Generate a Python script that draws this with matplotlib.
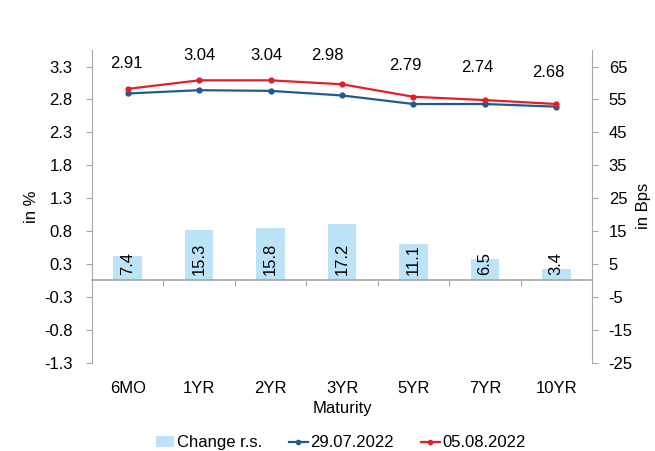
import matplotlib
matplotlib.use("Agg")
import matplotlib.pyplot as plt
from matplotlib.patches import Patch
from matplotlib.lines import Line2D

categories = ["6MO", "1YR", "2YR", "3YR", "5YR", "7YR", "10YR"]
change_bps = [7.4, 15.3, 15.8, 17.2, 11.1, 6.5, 3.4]
yield_2907 = [2.84, 2.89, 2.88, 2.81, 2.68, 2.68, 2.64]
yield_0508 = [2.91, 3.04, 3.04, 2.98, 2.79, 2.74, 2.68]
left_ticks = [-1.25, -0.75, -0.25, 0.25, 0.75, 1.25, 1.75, 2.25, 2.75, 3.25]
left_labels = ["-1.3", "-0.8", "-0.3", "0.3", "0.8", "1.3", "1.8", "2.3", "2.8", "3.3"]
right_ticks = [-25, -15, -5, 5, 15, 25, 35, 45, 55, 65]

# data-label placement (pixel offsets from each point, as positioned in the original)
label_dx_px = [-1, 0, -4, -15, -8, -8, -8]
label_dy_px = [25, 25, 25, 28.5, 31.5, 32.5, 31.5]

plt.rcParams['font.family'] = ['Liberation Sans', 'DejaVu Sans']
plt.rcParams['font.size'] = 12

GREY = "#A6A6A6"
BAR = "#BDE3F8"
BLUE = "#1F5A94"
RED = "#E1202B"

fig = plt.figure(figsize=(6.55, 4.51), dpi=100)
ax = fig.add_axes([0.1405, 0.196, 0.7633, 0.693])
ax2 = ax.twinx()
ax.set_zorder(ax2.get_zorder() + 1)
ax.patch.set_visible(False)

x = list(range(len(categories)))
PT = 72 / 100

ax2.bar(x, change_bps, width=0.4, color=BAR, zorder=2)
for xi, v in zip(x, change_bps):
    ax2.annotate(f"{v}", (xi, 0), xytext=(0, 3.5), textcoords="offset points",
                 rotation=90, ha="center", va="bottom", fontsize=12)

ax.plot(x, yield_2907, color=BLUE, lw=1.6, marker="o", ms=3.5, zorder=3)
ax.plot(x, yield_0508, color=RED, lw=1.6, marker="o", ms=3.5, zorder=3)
for xi, v, dx, dy in zip(x, yield_0508, label_dx_px, label_dy_px):
    ax.annotate(f"{v:.2f}", (xi, v), xytext=(dx * PT, dy * PT), textcoords="offset points",
                ha="center", va="center", fontsize=12)

ax.set_xlim(-0.5, len(categories) - 0.5)
ax.set_ylim(-1.25, 3.5)
ax2.set_ylim(-25, 70)

ax.set_yticks(left_ticks)
ax.set_yticklabels(left_labels)
ax2.set_yticks(right_ticks)
ax2.set_yticklabels([str(t) for t in right_ticks])

ax.set_xticks(x)
ax.set_xticklabels(categories)
ax.tick_params(axis="x", length=0, pad=13)
ax.tick_params(axis="y", length=4, color=GREY, direction="out", pad=10)
ax2.tick_params(axis="y", length=4, color=GREY, direction="out", pad=8)

for a in (ax, ax2):
    a.spines["top"].set_visible(False)
    a.spines["bottom"].set_visible(False)
    a.spines["left"].set_color(GREY)
    a.spines["right"].set_color(GREY)
ax.spines["right"].set_visible(False)
ax2.spines["left"].set_visible(False)

# zero line with category-boundary ticks
zero_frac = (0 - (-1.25)) / (3.5 - (-1.25))
sec = ax.secondary_xaxis(zero_frac)
sec.set_xticks([i + 0.5 for i in range(len(categories) - 1)])
sec.set_xticklabels([])
sec.tick_params(axis="x", length=4, color=GREY, direction="out")
sec.spines["bottom"].set_color(GREY)
sec.spines["bottom"].set_linewidth(1.2)

ax.set_xlabel("Maturity", labelpad=3.5)
ax.set_ylabel("in %", labelpad=4)
ax2.set_ylabel("in Bps", labelpad=2)

handles = [Patch(facecolor=BAR, edgecolor="none"),
           Line2D([], [], color=BLUE, lw=1.6, marker="o", ms=3),
           Line2D([], [], color=RED, lw=1.6, marker="o", ms=3)]
fig.legend(handles, ["Change r.s.", "29.07.2022", "05.08.2022"],
           loc="center", bbox_to_anchor=(0.52, 0.018), ncol=3, frameon=False,
           handlelength=1.1, handletextpad=0.15, columnspacing=1.65, fontsize=12)

fig.savefig("out.png", dpi=100)
